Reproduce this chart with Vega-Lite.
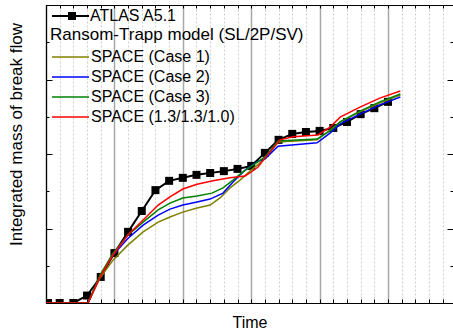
{
  "$schema": "https://vega.github.io/schema/vega-lite/v6.json",
  "width": 407,
  "height": 298,
  "autosize": {"type": "none"},
  "padding": {"left": 46, "top": 5, "right": 0, "bottom": 30},
  "config": {
    "font": "Liberation Sans",
    "view": {"stroke": null},
    "axis": {"domainColor": "#000", "tickColor": "#000", "labels": false, "domainWidth": 1.2, "tickWidth": 1}
  },
  "datasets": {
    "atlas": [
      {"t": 0.15, "m": 0, "series": "ATLAS A5.1"},
      {"t": 1, "m": 0, "series": "ATLAS A5.1"},
      {"t": 2, "m": 0, "series": "ATLAS A5.1"},
      {"t": 3, "m": 0.2, "series": "ATLAS A5.1"},
      {"t": 4, "m": 0.70, "series": "ATLAS A5.1"},
      {"t": 5, "m": 1.34, "series": "ATLAS A5.1"},
      {"t": 6, "m": 1.91, "series": "ATLAS A5.1"},
      {"t": 7, "m": 2.47, "series": "ATLAS A5.1"},
      {"t": 8, "m": 3.03, "series": "ATLAS A5.1"},
      {"t": 9, "m": 3.28, "series": "ATLAS A5.1"},
      {"t": 10, "m": 3.36, "series": "ATLAS A5.1"},
      {"t": 11, "m": 3.44, "series": "ATLAS A5.1"},
      {"t": 12, "m": 3.49, "series": "ATLAS A5.1"},
      {"t": 13, "m": 3.54, "series": "ATLAS A5.1"},
      {"t": 14, "m": 3.60, "series": "ATLAS A5.1"},
      {"t": 15, "m": 3.68, "series": "ATLAS A5.1"},
      {"t": 16, "m": 4.03, "series": "ATLAS A5.1"},
      {"t": 17, "m": 4.38, "series": "ATLAS A5.1"},
      {"t": 18, "m": 4.54, "series": "ATLAS A5.1"},
      {"t": 19, "m": 4.59, "series": "ATLAS A5.1"},
      {"t": 20, "m": 4.62, "series": "ATLAS A5.1"},
      {"t": 21, "m": 4.70, "series": "ATLAS A5.1"},
      {"t": 22, "m": 4.86, "series": "ATLAS A5.1"},
      {"t": 23, "m": 5.07, "series": "ATLAS A5.1"},
      {"t": 24, "m": 5.23, "series": "ATLAS A5.1"},
      {"t": 25, "m": 5.40, "series": "ATLAS A5.1"}
    ],
    "space": [
      {"t": 0, "m": 0, "series": "SPACE (Case 1)"},
      {"t": 3.07, "m": 0, "series": "SPACE (Case 1)"},
      {"t": 3.95, "m": 0.67, "series": "SPACE (Case 1)"},
      {"t": 4.9, "m": 1.15, "series": "SPACE (Case 1)"},
      {"t": 6.0, "m": 1.56, "series": "SPACE (Case 1)"},
      {"t": 7.1, "m": 1.91, "series": "SPACE (Case 1)"},
      {"t": 8.2, "m": 2.17, "series": "SPACE (Case 1)"},
      {"t": 9.06, "m": 2.31, "series": "SPACE (Case 1)"},
      {"t": 10.0, "m": 2.44, "series": "SPACE (Case 1)"},
      {"t": 11.04, "m": 2.55, "series": "SPACE (Case 1)"},
      {"t": 12.0, "m": 2.63, "series": "SPACE (Case 1)"},
      {"t": 12.72, "m": 2.82, "series": "SPACE (Case 1)"},
      {"t": 13.45, "m": 3.09, "series": "SPACE (Case 1)"},
      {"t": 14.18, "m": 3.30, "series": "SPACE (Case 1)"},
      {"t": 14.91, "m": 3.54, "series": "SPACE (Case 1)"},
      {"t": 15.64, "m": 3.76, "series": "SPACE (Case 1)"},
      {"t": 16.08, "m": 3.89, "series": "SPACE (Case 1)"},
      {"t": 16.96, "m": 4.32, "series": "SPACE (Case 1)"},
      {"t": 19.81, "m": 4.38, "series": "SPACE (Case 1)"},
      {"t": 20.76, "m": 4.64, "series": "SPACE (Case 1)"},
      {"t": 21.5, "m": 4.86, "series": "SPACE (Case 1)"},
      {"t": 22.95, "m": 5.13, "series": "SPACE (Case 1)"},
      {"t": 24.4, "m": 5.37, "series": "SPACE (Case 1)"},
      {"t": 25.9, "m": 5.58, "series": "SPACE (Case 1)"},

      {"t": 0, "m": 0, "series": "SPACE (Case 2)"},
      {"t": 3.07, "m": 0, "series": "SPACE (Case 2)"},
      {"t": 3.95, "m": 0.72, "series": "SPACE (Case 2)"},
      {"t": 4.9, "m": 1.29, "series": "SPACE (Case 2)"},
      {"t": 6.0, "m": 1.74, "series": "SPACE (Case 2)"},
      {"t": 7.1, "m": 2.09, "series": "SPACE (Case 2)"},
      {"t": 8.2, "m": 2.36, "series": "SPACE (Case 2)"},
      {"t": 9.06, "m": 2.52, "series": "SPACE (Case 2)"},
      {"t": 10.0, "m": 2.63, "series": "SPACE (Case 2)"},
      {"t": 11.04, "m": 2.71, "series": "SPACE (Case 2)"},
      {"t": 11.99, "m": 2.79, "series": "SPACE (Case 2)"},
      {"t": 12.94, "m": 2.95, "series": "SPACE (Case 2)"},
      {"t": 13.67, "m": 3.25, "series": "SPACE (Case 2)"},
      {"t": 14.55, "m": 3.57, "series": "SPACE (Case 2)"},
      {"t": 15.42, "m": 3.79, "series": "SPACE (Case 2)"},
      {"t": 16.01, "m": 3.87, "series": "SPACE (Case 2)"},
      {"t": 16.96, "m": 4.21, "series": "SPACE (Case 2)"},
      {"t": 19.81, "m": 4.30, "series": "SPACE (Case 2)"},
      {"t": 20.76, "m": 4.56, "series": "SPACE (Case 2)"},
      {"t": 21.5, "m": 4.81, "series": "SPACE (Case 2)"},
      {"t": 22.95, "m": 5.07, "series": "SPACE (Case 2)"},
      {"t": 24.4, "m": 5.32, "series": "SPACE (Case 2)"},
      {"t": 25.9, "m": 5.53, "series": "SPACE (Case 2)"},

      {"t": 0, "m": 0, "series": "SPACE (Case 3)"},
      {"t": 3.07, "m": 0, "series": "SPACE (Case 3)"},
      {"t": 3.95, "m": 0.75, "series": "SPACE (Case 3)"},
      {"t": 4.9, "m": 1.34, "series": "SPACE (Case 3)"},
      {"t": 6.0, "m": 1.83, "series": "SPACE (Case 3)"},
      {"t": 7.1, "m": 2.17, "series": "SPACE (Case 3)"},
      {"t": 8.2, "m": 2.50, "series": "SPACE (Case 3)"},
      {"t": 9.06, "m": 2.68, "series": "SPACE (Case 3)"},
      {"t": 10.0, "m": 2.82, "series": "SPACE (Case 3)"},
      {"t": 11.04, "m": 2.87, "series": "SPACE (Case 3)"},
      {"t": 12.13, "m": 2.95, "series": "SPACE (Case 3)"},
      {"t": 12.94, "m": 3.09, "series": "SPACE (Case 3)"},
      {"t": 13.67, "m": 3.30, "series": "SPACE (Case 3)"},
      {"t": 14.40, "m": 3.52, "series": "SPACE (Case 3)"},
      {"t": 15.13, "m": 3.70, "series": "SPACE (Case 3)"},
      {"t": 16.01, "m": 3.92, "series": "SPACE (Case 3)"},
      {"t": 16.96, "m": 4.35, "series": "SPACE (Case 3)"},
      {"t": 19.81, "m": 4.40, "series": "SPACE (Case 3)"},
      {"t": 20.76, "m": 4.62, "series": "SPACE (Case 3)"},
      {"t": 21.5, "m": 4.86, "series": "SPACE (Case 3)"},
      {"t": 22.95, "m": 5.15, "series": "SPACE (Case 3)"},
      {"t": 24.4, "m": 5.40, "series": "SPACE (Case 3)"},
      {"t": 25.9, "m": 5.61, "series": "SPACE (Case 3)"},

      {"t": 0, "m": 0, "series": "SPACE (1.3/1.3/1.0)"},
      {"t": 3.07, "m": 0, "series": "SPACE (1.3/1.3/1.0)"},
      {"t": 3.95, "m": 0.70, "series": "SPACE (1.3/1.3/1.0)"},
      {"t": 4.9, "m": 1.29, "series": "SPACE (1.3/1.3/1.0)"},
      {"t": 6.0, "m": 1.83, "series": "SPACE (1.3/1.3/1.0)"},
      {"t": 7.1, "m": 2.23, "series": "SPACE (1.3/1.3/1.0)"},
      {"t": 8.2, "m": 2.63, "series": "SPACE (1.3/1.3/1.0)"},
      {"t": 9.06, "m": 2.85, "series": "SPACE (1.3/1.3/1.0)"},
      {"t": 10.0, "m": 3.06, "series": "SPACE (1.3/1.3/1.0)"},
      {"t": 11.04, "m": 3.19, "series": "SPACE (1.3/1.3/1.0)"},
      {"t": 12.2, "m": 3.28, "series": "SPACE (1.3/1.3/1.0)"},
      {"t": 13.45, "m": 3.36, "series": "SPACE (1.3/1.3/1.0)"},
      {"t": 14.55, "m": 3.41, "series": "SPACE (1.3/1.3/1.0)"},
      {"t": 14.9, "m": 3.49, "series": "SPACE (1.3/1.3/1.0)"},
      {"t": 15.5, "m": 3.65, "series": "SPACE (1.3/1.3/1.0)"},
      {"t": 16.0, "m": 3.89, "series": "SPACE (1.3/1.3/1.0)"},
      {"t": 17.1, "m": 4.38, "series": "SPACE (1.3/1.3/1.0)"},
      {"t": 18.06, "m": 4.46, "series": "SPACE (1.3/1.3/1.0)"},
      {"t": 19.88, "m": 4.51, "series": "SPACE (1.3/1.3/1.0)"},
      {"t": 20.76, "m": 4.72, "series": "SPACE (1.3/1.3/1.0)"},
      {"t": 21.5, "m": 4.99, "series": "SPACE (1.3/1.3/1.0)"},
      {"t": 22.95, "m": 5.26, "series": "SPACE (1.3/1.3/1.0)"},
      {"t": 24.4, "m": 5.50, "series": "SPACE (1.3/1.3/1.0)"},
      {"t": 25.9, "m": 5.69, "series": "SPACE (1.3/1.3/1.0)"}
    ]
  },
  "layer": [
    {
      "data": {"name": "atlas"},
      "encoding": {
        "x": {
          "field": "t", "type": "quantitative",
          "scale": {"domain": [0, 29.75], "nice": false, "zero": false},
          "axis": {
            "orient": "bottom",
            "values": [0,1,2,3,4,5,6,7,8,9,10,11,12,13,14,15,16,17,18,19,20,21,22,23,24,25,26,27,28,29],
            "grid": true,
            "gridColor": {"condition": {"test": "datum.value % 5 === 0", "value": "#a8a8a8"}, "value": "#cfcfcf"},
            "gridDash": {"condition": {"test": "datum.value % 5 === 0", "value": []}, "value": [2, 2]},
            "gridWidth": {"condition": {"test": "datum.value % 5 === 0", "value": 1.5}, "value": 1},
            "tickSize": -4,
            "labels": false,
            "title": "Time",
            "titleFontSize": 16,
            "titleFontWeight": "normal",
            "titleColor": "#000",
            "titleBaseline": "middle",
            "titleY": 19
          }
        },
        "y": {
          "field": "m", "type": "quantitative",
          "scale": {"domain": [0, 8], "nice": false, "zero": false},
          "axis": {
            "orient": "left",
            "values": [0,1,2,3,4,5,6,7,8],
            "grid": false,
            "tickSize": {"condition": {"test": "datum.value % 2 === 0", "value": -6}, "value": -3},
            "labels": false,
            "title": "Integrated mass of break flow",
            "titleFontSize": 17,
            "titleFontWeight": "normal",
            "titleColor": "#000",
            "titleAngle": 270,
            "titleAlign": "center",
            "titleBaseline": "middle",
            "titleX": -30,
            "titleY": 129
          }
        },
        "color": {
          "field": "series", "type": "nominal",
          "scale": {"domain": ["ATLAS A5.1"], "range": ["#000000"]},
          "legend": {
            "orient": "none",
            "legendX": 4,
            "legendY": 3,
            "title": null,
            "padding": 0,
            "symbolType": "M-1.2,0H6.2M2.2,-0.6H3.4V0.6H2.2Z",
            "symbolSize": 100,
            "symbolStrokeColor": "#000",
            "symbolFillColor": "#000",
            "symbolStrokeWidth": 2,
            "labelFontSize": 16,
            "labelColor": "#000",
            "labelOffset": 24
          }
        }
      },
      "layer": [
        {"mark": {"type": "line", "strokeWidth": 2, "clip": true}},
        {"mark": {"type": "point", "shape": "square", "size": 64, "filled": true, "opacity": 1, "clip": true}}
      ]
    },
    {
      "data": {"name": "space"},
      "mark": {"type": "line", "strokeWidth": 1.5, "clip": true},
      "encoding": {
        "x": {
          "field": "t", "type": "quantitative",
          "axis": {
            "orient": "top",
            "values": [0,1,2,3,4,5,6,7,8,9,10,11,12,13,14,15,16,17,18,19,20,21,22,23,24,25,26,27,28,29],
            "grid": false,
            "tickSize": -3,
            "labels": false,
            "title": null
          }
        },
        "y": {
          "field": "m", "type": "quantitative",
          "axis": {
            "orient": "right",
            "values": [0,1,2,3,4,5,6,7,8],
            "grid": false,
            "domain": false,
            "tickSize": {"condition": {"test": "datum.value % 2 === 0", "value": -6}, "value": -3},
            "labels": false,
            "title": null
          }
        },
        "color": {
          "field": "series", "type": "nominal",
          "sort": ["SPACE (Case 1)", "SPACE (Case 2)", "SPACE (Case 3)", "SPACE (1.3/1.3/1.0)"],
          "scale": {
            "domain": ["SPACE (Case 1)", "SPACE (Case 2)", "SPACE (Case 3)", "SPACE (1.3/1.3/1.0)"],
            "range": ["#808000", "#0000ff", "#008000", "#ff0000"]
          },
          "legend": {
            "orient": "none",
            "legendX": 4,
            "legendY": 22,
            "title": "Ransom-Trapp model (SL/2P/SV)",
            "titleFontSize": 17,
            "titleFontWeight": "normal",
            "titleColor": "#000",
            "titleLimit": 400,
            "titlePadding": 5,
            "padding": 0,
            "symbolType": "M-1.2,0H6.2",
            "symbolSize": 100,
            "symbolStrokeWidth": 1.5,
            "labelFontSize": 16,
            "labelColor": "#000",
            "labelOffset": 25,
            "rowPadding": 4
          }
        }
      }
    }
  ],
  "resolve": {
    "scale": {"color": "independent"},
    "axis": {"x": "independent", "y": "independent"}
  }
}
